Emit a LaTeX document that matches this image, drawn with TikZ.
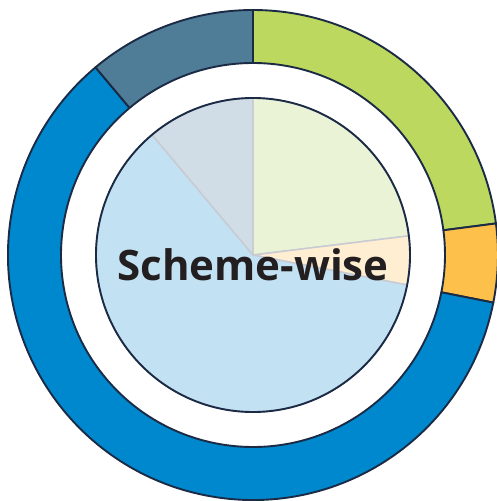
\documentclass[tikz,border=0pt]{standalone}
\usepackage{fontspec}
\setmainfont{Open Sans}
\usetikzlibrary{positioning}
\definecolor{outline}{HTML}{1B2A45}
\definecolor{wedgeline}{HTML}{C9CBD3}
\definecolor{ringgreen}{HTML}{BDD85F}
\definecolor{ringorange}{HTML}{FDC04A}
\definecolor{ringblue}{HTML}{0088CE}
\definecolor{ringslate}{HTML}{4F7D98}
\definecolor{piegreen}{HTML}{EBF3D6}
\definecolor{pieorange}{HTML}{FFEED2}
\definecolor{pieblue}{HTML}{C2E1F2}
\definecolor{pieslate}{HTML}{D0DDE6}
\definecolor{titletext}{HTML}{231F20}
\tikzset{ring sector/.style={
    draw=outline,
    line width=1.9pt,
    line join=round
  },
  pie wedge/.style={
    draw=wedgeline,
    line width=1.5pt
  }
}

\begin{document}
\begin{tikzpicture}[x=1pt,y=1pt]
    \useasboundingbox (-253,-246) rectangle (243,255);
    % outer ring
    \foreach \from/\to/\col in {90/7.4/ringgreen, 7.4/-11.2/ringorange,
        -11.2/-230/ringblue, 130/90/ringslate} {
        \filldraw[ring sector, fill=\col] (\from:245)
            arc[start angle=\from, end angle=\to, radius=245] -- (\to:192)
            arc[start angle=\to, end angle=\from, radius=192] -- cycle;
    }
    % inner pie
    \foreach \from/\to/\col in {90/7/piegreen, 7/-11/pieorange,
        -11/-230/pieblue, 130/90/pieslate} {
        \filldraw[pie wedge, fill=\col] (0,0) -- (\from:157)
            arc[start angle=\from, end angle=\to, radius=157] -- cycle;
    }
    \draw[outline, line width=1.9pt] (0,0) circle[radius=157];
    \node[anchor=base, inner sep=0pt, text=titletext,
        font=\fontsize{42}{50}\selectfont\bfseries] (title) at (0,-25) {Scheme-wise};
\end{tikzpicture}
\end{document}
